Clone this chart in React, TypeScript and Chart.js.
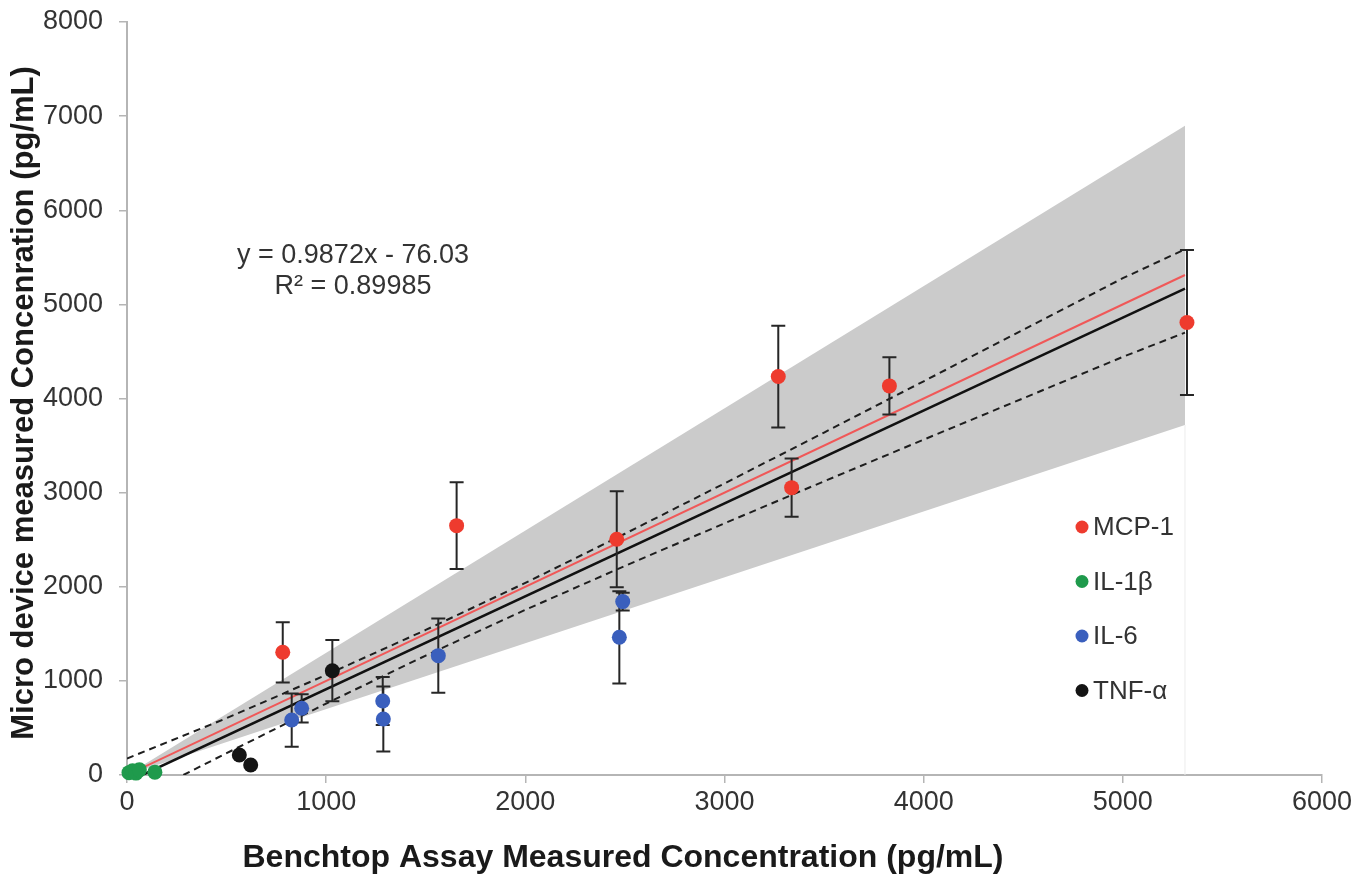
import React, { useEffect, useRef } from 'react';
import { Chart, registerables } from 'chart.js';

Chart.register(...registerables);

// ---- axis ticks ----
const xTickValues = [0, 1000, 2000, 3000, 4000, 5000, 6000];
const yTickValues = [0, 1000, 2000, 3000, 4000, 5000, 6000, 7000, 8000];

// ---- series (benchtop x, micro device y, error +/-) ----
const seriesNames = ['MCP-1', 'IL-1β', 'IL-6', 'TNF-α'];
const seriesColors = ['#ee3b2e', '#1f9a4c', '#3a5fbd', '#141414'];

const mcp1X = [782, 1655, 2459, 3270, 3337, 3828, 5322];
const mcp1Y = [1304, 2649, 2505, 4233, 3053, 4134, 4807];
const mcp1Err = [320, 460, 510, 540, 310, 305, 770];

const il1bX = [10, 28, 45, 62, 140];
const il1bY = [25, 45, 20, 55, 30];
const il1bErr = [0, 0, 0, 0, 0];

const il6X = [827, 877, 1284, 1287, 1563, 2472, 2489];
const il6Y = [584, 709, 786, 595, 1268, 1463, 1842];
const il6Err = [283, 150, 255, 345, 395, 490, 95];

const tnfX = [564, 621, 1031];
const tnfY = [212, 106, 1108];
const tnfErr = [0, 0, 325];

// ---- fitted line, identity line, confidence curves, +/-30% band ----
const fitX = [77, 5312];
const fitY = [0, 5168];
const identityX = [0, 5312];
const identityY = [0, 5312];

const ciUpperX = [0, 500, 1000, 1500, 2000, 2500, 3000, 3500, 4000, 4500, 5000, 5312];
const ciUpperY = [175, 604, 1063, 1541, 2041, 2563, 3098, 3638, 4183, 4730, 5278, 5585];
const ciLowerX = [283, 500, 1000, 1500, 2000, 2500, 3000, 3500, 4000, 4500, 5000, 5312];
const ciLowerY = [0, 232, 759, 1269, 1755, 2221, 2674, 3120, 3563, 4002, 4442, 4700];

const bandX = [0, 5312];
const bandUpperY = [0, 6897];
const bandLowerY = [0, 3719];

const edgeX = [5312, 5312];
const edgeY = [0, 3719];

const equationLines = ['y = 0.9872x - 76.03', 'R² = 0.89985'];
const xTitle = 'Benchtop Assay Measured Concentration (pg/mL)';
const yTitle = 'Micro device measured Concenration (pg/mL)';

const FONT = '"Liberation Sans", Arial, Helvetica, sans-serif';

const zip = (xs: number[], ys: number[]) => xs.map((x, i) => ({ x, y: ys[i] }));

const errorBarPlugin = {
  id: 'errorBars',
  beforeDatasetDraw(chart: any, args: any) {
    const ds = chart.data.datasets[args.index];
    if (!ds.errors) return;
    const yScale = chart.scales.y;
    const ctx = chart.ctx;
    ctx.save();
    ctx.strokeStyle = '#262626';
    ctx.lineWidth = 2;
    args.meta.data.forEach((pt: any, i: number) => {
      const e = ds.errors[i];
      if (!e) return;
      const v = ds.data[i].y;
      const top = yScale.getPixelForValue(v + e);
      const bot = yScale.getPixelForValue(v - e);
      ctx.beginPath();
      ctx.moveTo(pt.x, top);
      ctx.lineTo(pt.x, bot);
      ctx.moveTo(pt.x - 7, top);
      ctx.lineTo(pt.x + 7, top);
      ctx.moveTo(pt.x - 7, bot);
      ctx.lineTo(pt.x + 7, bot);
      ctx.stroke();
    });
    ctx.restore();
  },
};

const textPlugin = {
  id: 'texts',
  afterDraw(chart: any) {
    const ctx = chart.ctx;
    const area = chart.chartArea;
    ctx.save();
    // equation
    ctx.fillStyle = '#333333';
    ctx.font = `27px ${FONT}`;
    ctx.textAlign = 'center';
    ctx.textBaseline = 'middle';
    ctx.fillText(equationLines[0], area.left + 226, area.top + 234);
    ctx.fillText(equationLines[1], area.left + 226, area.top + 265);

    // legend
    ctx.textAlign = 'left';
    seriesNames.forEach((name, i) => {
      const cy = area.top + 505 + i * 54.5;
      const cx = area.left + 955;
      ctx.fillStyle = seriesColors[i];
      ctx.beginPath();
      ctx.arc(cx, cy, 6.5, 0, Math.PI * 2);
      ctx.fill();
      ctx.fillStyle = '#333333';
      ctx.font = `26px ${FONT}`;
      ctx.fillText(name, cx + 11, cy + 1);
    });

    // axis titles
    ctx.fillStyle = '#1a1a1a';
    ctx.font = `bold 32px ${FONT}`;
    ctx.textAlign = 'center';
    ctx.fillText(xTitle, 623, chart.height - 17);
    ctx.font = `bold 31px ${FONT}`;
    ctx.save();
    ctx.translate(24, 403);
    ctx.rotate(-Math.PI / 2);
    ctx.fillText(yTitle, 0, 0);
    ctx.restore();
    ctx.restore();
  },
};

export default function App() {
  const ref = useRef<HTMLCanvasElement | null>(null);

  useEffect(() => {
    document.body.style.margin = '0';
    if (!ref.current) return;
    const pointDs = (i: number, xs: number[], ys: number[], errs: number[]) => ({
      label: seriesNames[i],
      data: zip(xs, ys),
      errors: errs,
      showLine: false,
      pointRadius: 7.5,
      pointHoverRadius: 7.5,
      pointBorderWidth: 0,
      backgroundColor: seriesColors[i],
      borderColor: seriesColors[i],
      clip: false,
      order: 1 + i,
    });
    const lineDs = (label: string, xs: number[], ys: number[], color: string, width: number, dash: number[], order: number, extra: any = {}) => ({
      label,
      data: zip(xs, ys),
      borderColor: color,
      borderWidth: width,
      borderDash: dash,
      pointRadius: 0,
      pointHoverRadius: 0,
      fill: false,
      tension: 0,
      order,
      ...extra,
    });

    const chart = new Chart(ref.current, {
      type: 'line',
      data: {
        datasets: [
          lineDs('band upper', bandX, bandUpperY, 'rgba(0,0,0,0)', 0, [], 30, { fill: '+1', backgroundColor: '#cbcbcb' }),
          lineDs('band lower', bandX, bandLowerY, 'rgba(0,0,0,0)', 0, [], 29),
          lineDs('edge', edgeX, edgeY, '#ececec', 1, [], 28),
          lineDs('95% upper', ciUpperX, ciUpperY, '#1e1e1e', 2, [7, 5], 20),
          lineDs('95% lower', ciLowerX, ciLowerY, '#1e1e1e', 2, [7, 5], 19),
          lineDs('y = x', identityX, identityY, '#f05858', 2, [], 18),
          lineDs('fit', fitX, fitY, '#111111', 2.5, [], 17),
          pointDs(0, mcp1X, mcp1Y, mcp1Err),
          pointDs(1, il1bX, il1bY, il1bErr),
          pointDs(2, il6X, il6Y, il6Err),
          pointDs(3, tnfX, tnfY, tnfErr),
        ] as any,
      },
      options: {
        animation: false,
        responsive: false,
        devicePixelRatio: 1,
        layout: { padding: { left: 0, top: 22, right: 34, bottom: 0 } },
        plugins: {
          legend: { display: false },
          tooltip: { enabled: false },
        },
        scales: {
          x: {
            type: 'linear',
            min: 0,
            max: 6000,
            afterFit: (s: any) => { s.height = 100; },
            afterBuildTicks: (s: any) => { s.ticks = xTickValues.map((v) => ({ value: v })); },
            ticks: { color: '#333333', font: { family: FONT, size: 27 }, padding: 3, maxRotation: 0, callback: (v: any) => String(v) },
            grid: { drawOnChartArea: false, drawTicks: true, tickLength: 8, color: '#b5b5b5', lineWidth: 1.5 },
            border: { display: true, color: '#b5b5b5', width: 2 },
          },
          y: {
            type: 'linear',
            min: 0,
            max: 8000,
            afterFit: (s: any) => { s.width = 127; s.paddingTop = 0; s.paddingBottom = 0; },
            afterBuildTicks: (s: any) => { s.ticks = yTickValues.map((v) => ({ value: v })); },
            ticks: { color: '#333333', font: { family: FONT, size: 27 }, padding: 16, callback: (v: any) => String(v) },
            grid: { drawOnChartArea: false, drawTicks: true, tickLength: 8, color: '#b5b5b5', lineWidth: 1.5 },
            border: { display: true, color: '#b5b5b5', width: 2 },
          },
        },
      } as any,
      plugins: [errorBarPlugin, textPlugin],
    });
    return () => chart.destroy();
  }, []);

  return (
    <div style={{ width: 1356, height: 875, background: '#ffffff' }}>
      <canvas ref={ref} width={1356} height={875} style={{ display: 'block' }} />
    </div>
  );
}
